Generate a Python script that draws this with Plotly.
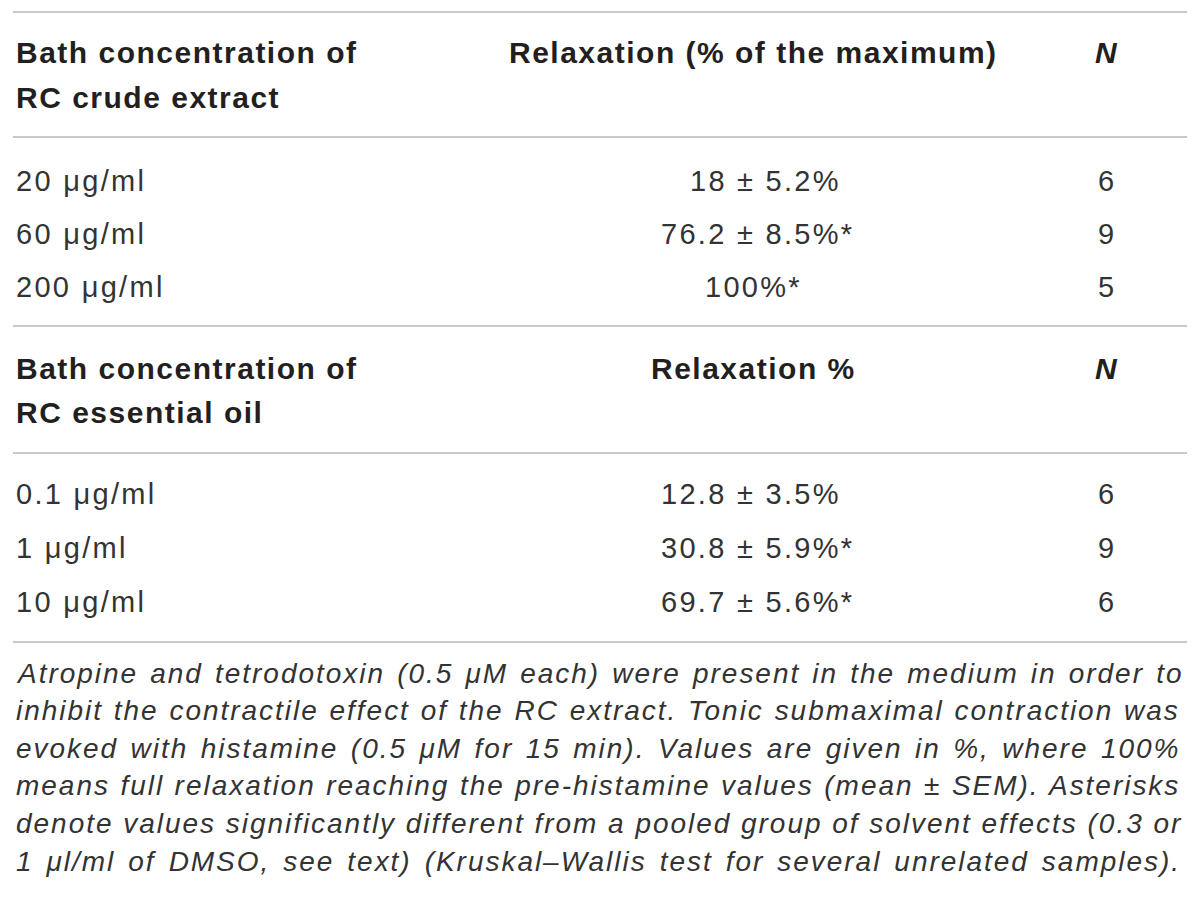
import plotly.graph_objects as go

# table content
# -------------------------------------------------------------------------------------------------
header_extract = ["Bath concentration of", "RC crude extract"]
header_oil = ["Bath concentration of", "RC essential oil"]
relax_header_extract = "Relaxation (% of the maximum)"
relax_header_oil = "Relaxation %"
n_header = "N"

conc_extract = ["20 μg/ml", "60 μg/ml", "200 μg/ml"]
relax_extract = ["18 ± 5.2%", "76.2 ± 8.5%*", "100%*"]
n_extract = [6, 9, 5]

conc_oil = ["0.1 μg/ml", "1 μg/ml", "10 μg/ml"]
relax_oil = ["12.8 ± 3.5%", "30.8 ± 5.9%*", "69.7 ± 5.6%*"]
n_oil = [6, 9, 6]

caption_lines = [
    "Atropine and tetrodotoxin (0.5 μM each) were present in the medium in order to",
    "inhibit the contractile effect of the RC extract. Tonic submaximal contraction was",
    "evoked with histamine (0.5 μM for 15 min). Values are given in %, where 100%",
    "means full relaxation reaching the pre-histamine values (mean ± SEM). Asterisks",
    "denote values significantly different from a pooled group of solvent effects (0.3 or",
    "1 μl/ml of DMSO, see text) (Kruskal–Wallis test for several unrelated samples).",
]

# layout helpers (page pixel coords, y grows downward)
# -------------------------------------------------------------------------------------------------
W, H = 1200, 917
PAGE_OFFSET = 8  # body margin of the written html page
FONT = "Liberation Sans"
TXT = "#231f20"
BODY_TXT = "#333333"
RULE = "#c9c9c9"
X_LEFT = 15
X_RIGHT = 1185
X_REL = 753
X_PM = 736
X_N = 1106
HEAD_SIZE = 30
BODY_SIZE = 29
CAP_SIZE = 28
HEAD_LS = 1.5
BODY_LS = 2.3

# Arial / Liberation Sans advance widths (1/1000 em), used to justify the caption
ADV = {" ": 278, "(": 333, ")": 333, "*": 389, ",": 278, "-": 333, ".": 278, "/": 278,
       "%": 889, "±": 584, "–": 556, "μ": 576}
ADV.update({d: 556 for d in "0123456789"})
ADV.update(dict(A=667, B=667, C=722, D=722, E=667, K=667, M=833, O=778, R=722, S=667,
                T=611, V=667, W=944))
ADV.update(dict(a=556, b=556, c=500, d=556, e=556, f=278, g=556, h=556, i=222, j=222,
                k=500, l=222, m=833, n=556, o=556, p=556, q=556, r=333, s=500, t=278,
                u=556, v=500, w=722, x=500, y=500, z=500))


def base_width(s, size):
    return sum(ADV.get(ch, 556) for ch in s) * size / 1000.0


annotations = []


def add_text(x, y, text, size, spacing, anchor="left", bold=False, italic=False,
             color=TXT, word_spacing=0):
    text = '<span style="letter-spacing:%.2fpx;word-spacing:%.2fpx">%s</span>' % (
        spacing, word_spacing, text)
    if italic:
        text = "<i>" + text + "</i>"
    if bold:
        text = "<b>" + text + "</b>"
    annotations.append(dict(
        x=x, y=y, xref="x", yref="y", text=text, showarrow=False,
        xanchor=anchor, yanchor="middle", borderpad=0,
        font=dict(family=FONT, size=size, color=color),
    ))


def add_value(y, value):
    # values with a spread are lined up on the plus-minus sign
    if "±" in value:
        mean, rest = value.split("±")
        gap = ADV[" "] * BODY_SIZE / 1000.0
        add_text(X_PM - gap, y, mean.strip(), BODY_SIZE, BODY_LS, anchor="right", color=BODY_TXT)
        add_text(X_PM, y, "± " + rest.strip(), BODY_SIZE, BODY_LS, anchor="left", color=BODY_TXT)
    else:
        add_text(X_REL, y, value, BODY_SIZE, BODY_LS, anchor="center", color=BODY_TXT)


def add_section(header, relax_header, concs, relaxes, ns, y_head, y_rows):
    add_text(X_LEFT, y_head[0], header[0], HEAD_SIZE, HEAD_LS, bold=True)
    add_text(X_LEFT, y_head[1], header[1], HEAD_SIZE, HEAD_LS, bold=True)
    add_text(X_REL, y_head[0], relax_header, HEAD_SIZE, HEAD_LS, anchor="center", bold=True)
    add_text(X_N, y_head[0], n_header, HEAD_SIZE, 0, anchor="center", bold=True, italic=True)
    for yy, c, r, n in zip(y_rows, concs, relaxes, ns):
        add_text(X_LEFT, yy, c, BODY_SIZE, BODY_LS, color=BODY_TXT)
        add_value(yy, r)
        add_text(X_N, yy, str(n), BODY_SIZE, 0, anchor="center", color=BODY_TXT)


add_section(header_extract, relax_header_extract, conc_extract, relax_extract, n_extract,
            [52, 97], [181, 234, 287])
add_section(header_oil, relax_header_oil, conc_oil, relax_oil, n_oil,
            [368, 412], [494, 548, 602])

# caption: common letter spacing so the longest line fits, then justify with word spacing
target = X_RIGHT - X_LEFT - 4
cap_ls = min((target - base_width(s, CAP_SIZE)) / len(s) for s in caption_lines)
cap_y = 673
for line in caption_lines:
    natural = base_width(line, CAP_SIZE) + cap_ls * len(line)
    ws = (target - natural) / line.count(" ")
    add_text(X_LEFT, cap_y, line, CAP_SIZE, cap_ls, italic=True, color=BODY_TXT,
             word_spacing=ws)
    cap_y += 37.6

shapes = []
for y_rule in [12, 137, 326, 453, 642]:
    shapes.append(dict(type="line", xref="x", yref="y", x0=13, x1=1187, y0=y_rule, y1=y_rule,
                       line=dict(color=RULE, width=2)))

fig = go.Figure()
fig.update_layout(
    width=W, height=H,
    margin=dict(l=0, r=0, t=0, b=0),
    paper_bgcolor="white", plot_bgcolor="white",
    xaxis=dict(range=[PAGE_OFFSET, W + PAGE_OFFSET], visible=False, fixedrange=True),
    yaxis=dict(range=[H + PAGE_OFFSET, PAGE_OFFSET], visible=False, fixedrange=True),
    annotations=annotations,
    shapes=shapes,
    showlegend=False,
)

fig.write_html("out.html")
